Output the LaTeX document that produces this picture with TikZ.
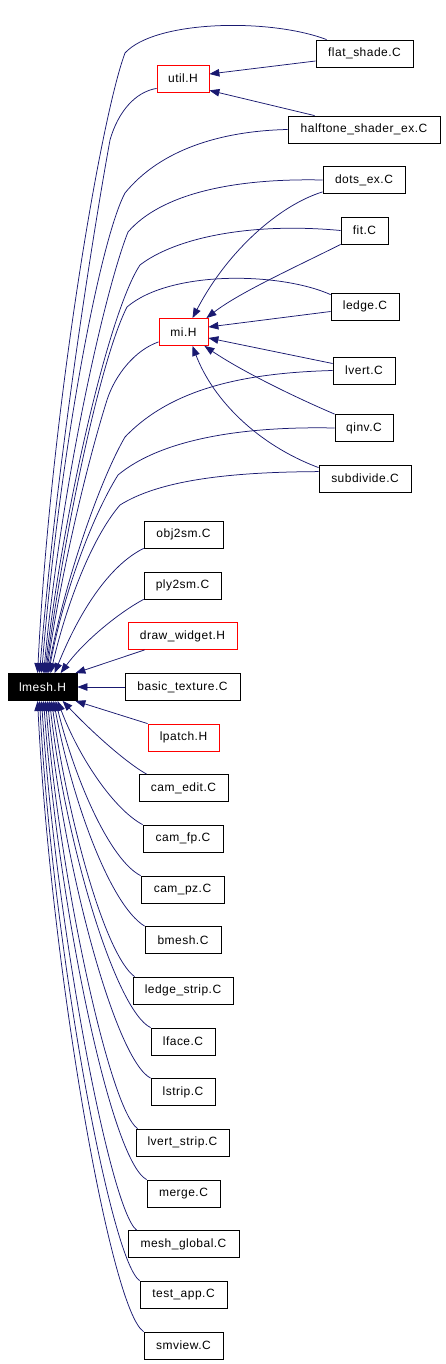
\documentclass[tikz,border=0pt]{standalone}
\usepackage{fontspec}
\setmainfont{Liberation Sans}[LetterSpace=4.0]
\usetikzlibrary{arrows.meta,calc}
\definecolor{edgeblue}{HTML}{191970}
\tikzset{
  box/.style={draw=black, line width=0.8pt, inner sep=0pt, minimum height=27pt, font=\fontsize{12}{14}\selectfont},
  redbox/.style={box, draw=red},
  rootbox/.style={box, fill=black, text=white},
  dep/.style={draw=edgeblue, line width=0.75pt, -{Triangle[length=10pt,width=7.5pt]}},
}
\begin{document}
\begin{tikzpicture}[x=1pt,y=-1pt]
\useasboundingbox (0,0) rectangle (445,1364);
% nodes
\node[box, minimum width=97pt] (flat) at (364.5,53.5) {flat\_shade.C};
\node[redbox, minimum width=52pt] (util) at (183,78.5) {util.H};
\node[box, minimum width=152pt] (half) at (364,129.5) {halftone\_shader\_ex.C};
\node[box, minimum width=82pt] (dots) at (364,180) {dots\_ex.C};
\node[box, minimum width=47pt] (fit) at (364.5,230.5) {fit.C};
\node[box, minimum width=68pt] (ledge) at (365,306.5) {ledge.C};
\node[redbox, minimum width=49pt] (mi) at (183.5,332) {mi.H};
\node[box, minimum width=62pt] (lvert) at (364,370.5) {lvert.C};
\node[box, minimum width=58pt] (qinv) at (364,428) {qinv.C};
\node[box, minimum width=92pt] (subdiv) at (365,478.5) {subdivide.C};
\node[box, minimum width=79pt] (obj) at (183.5,534.5) {obj2sm.C};
\node[box, minimum width=77pt] (ply) at (182.5,585.5) {ply2sm.C};
\node[redbox, minimum width=109pt] (dw) at (182.5,636) {draw\_widget.H};
\node[rootbox, minimum width=69pt] (lmesh) at (42.5,687) {lmesh.H};
\node[box, minimum width=115pt] (basic) at (182.5,687) {basic\_texture.C};
\node[redbox, minimum width=71pt] (lpatch) at (183.5,737.5) {lpatch.H};
\node[box, minimum width=89pt] (camedit) at (183.5,788) {cam\_edit.C};
\node[box, minimum width=80pt] (camfp) at (183,838.5) {cam\_fp.C};
\node[box, minimum width=83pt] (campz) at (182.5,889.5) {cam\_pz.C};
\node[box, minimum width=76pt] (bmesh) at (183,940) {bmesh.C};
\node[box, minimum width=100pt] (lstripe) at (183,990.5) {ledge\_strip.C};
\node[box, minimum width=64pt] (lface) at (183,1041.5) {lface.C};
\node[box, minimum width=64pt] (lstrip) at (183,1092) {lstrip.C};
\node[box, minimum width=93pt] (lvstrip) at (182.5,1142.5) {lvert\_strip.C};
\node[box, minimum width=73pt] (merge) at (183.5,1193.5) {merge.C};
\node[box, minimum width=111pt] (meshg) at (183.5,1244) {mesh\_global.C};
\node[box, minimum width=87pt] (testapp) at (183.5,1294.5) {test\_app.C};
\node[box, minimum width=79pt] (smview) at (183.5,1345.5) {smview.C};

% edges to util.H
\draw[dep] ($(flat.west)+(0,7.5)$) -- ($(util.east)+(0,-4.5)$);
\draw[dep] ($(half.north west)+(27,0)$) -- ($(util.south east)+(0,-2)$);

% edges to mi.H
\draw[dep] ($(dots.south west)+(0,-2)$) .. controls (280,205) and (228,250) .. ($(mi.north)+(9,0)$);
\draw[dep] (fit.south west) .. controls (300,265) and (240,292) .. ($(mi.north east)+(-2,0)$);
\draw[dep] ($(ledge.west)+(0,5)$) -- ($(mi.east)+(0,-5)$);
\draw[dep] ($(lvert.west)+(0,-7)$) -- ($(mi.east)+(0,6)$);
\draw[dep] (qinv.north west) .. controls (290,395) and (240,370) .. ($(mi.south east)+(-4,0)$);
\draw[dep] ($(subdiv.north west)+(0,3)$) .. controls (258,445) and (213,400) .. ($(mi.south)+(9,0)$);

% edges to lmesh.H (upper group)
\draw[dep] ($(flat.north west)+(11,0)$) .. controls (270,18) and (155,20) .. (125,53) .. controls (100,120) and (50,420) .. ($(lmesh.north west)+(30,0)$);
\draw[dep] ($(util.south west)+(0,-4)$) .. controls (135,92) and (118,112) .. (110,140) .. controls (90,250) and (55,480) .. ($(lmesh.north west)+(32,0)$);
\draw[dep] (half.west) .. controls (220,131) and (160,150) .. (125,193) .. controls (100,240) and (60,450) .. ($(lmesh.north west)+(34,0)$);
\draw[dep] (dots.west) .. controls (230,178) and (160,195) .. (128,232) .. controls (105,290) and (62,480) .. ($(lmesh.north west)+(36,0)$);
\draw[dep] (fit.west) .. controls (250,222) and (175,238) .. (140,265) .. controls (110,310) and (65,500) .. ($(lmesh.north west)+(37,0)$);
\draw[dep] ($(ledge.north west)+(0,2)$) .. controls (280,272) and (170,270) .. (127,307) .. controls (100,360) and (65,530) .. ($(lmesh.north west)+(38,0)$);
\draw[dep] ($(mi.south west)+(0,-4)$) .. controls (135,350) and (115,375) .. (107,400) .. controls (85,470) and (60,580) .. ($(lmesh.north west)+(39,0)$);
\draw[dep] (lvert.west) .. controls (240,373) and (170,390) .. (125,437) .. controls (100,480) and (65,580) .. ($(lmesh.north west)+(40,0)$);
\draw[dep] (qinv.west) .. controls (240,426) and (160,440) .. (118,475) .. controls (90,520) and (62,600) .. ($(lmesh.north west)+(41,0)$);
\draw[dep] ($(subdiv.north west)+(0,7)$) .. controls (230,472) and (160,480) .. (120,505) .. controls (90,540) and (65,610) .. ($(lmesh.north west)+(43,0)$);
\draw[dep] (obj.south west) .. controls (110,565) and (80,610) .. ($(lmesh.north west)+(47,0)$);
\draw[dep] (ply.south west) .. controls (120,612) and (85,640) .. ($(lmesh.north west)+(53,0)$);
\draw[dep] ($(dw.south west)+(17,0)$) -- ($(lmesh.north east)+(-2,0)$);
\draw[dep] (basic.west) -- (lmesh.east);

% edges to lmesh.H (lower group)
\draw[dep] (lpatch.north west) -- ($(lmesh.south east)+(-2,0)$);
\draw[dep] ($(camedit.north west)+(8,0)$) .. controls (125,762) and (90,730) .. ($(lmesh.south west)+(55,0)$);
\draw[dep] (camfp.north west) .. controls (115,810) and (80,760) .. ($(lmesh.south west)+(50,0)$);
\draw[dep] (campz.north west) .. controls (110,860) and (75,780) .. ($(lmesh.south west)+(48,0)$);
\draw[dep] (bmesh.north west) .. controls (110,905) and (72,800) .. ($(lmesh.south west)+(46,0)$);
\draw[dep] ($(lstripe.north west)+(2,0)$) .. controls (105,955) and (68,820) .. ($(lmesh.south west)+(44,0)$);
\draw[dep] (lface.north west) .. controls (115,1010) and (65,840) .. ($(lmesh.south west)+(42,0)$);
\draw[dep] (lstrip.north west) .. controls (115,1060) and (62,860) .. ($(lmesh.south west)+(40,0)$);
\draw[dep] ($(lvstrip.north west)+(2,0)$) .. controls (110,1110) and (60,880) .. ($(lmesh.south west)+(38,0)$);
\draw[dep] (merge.north west) .. controls (110,1160) and (58,900) .. ($(lmesh.south west)+(36,0)$);
\draw[dep] ($(meshg.north west)+(9,0)$) .. controls (110,1210) and (55,920) .. ($(lmesh.south west)+(34,0)$);
\draw[dep] (testapp.north west) .. controls (110,1260) and (52,940) .. ($(lmesh.south west)+(32,0)$);
\draw[dep] (smview.north west) .. controls (110,1310) and (50,960) .. ($(lmesh.south west)+(30,0)$);
\end{tikzpicture}
\end{document}
